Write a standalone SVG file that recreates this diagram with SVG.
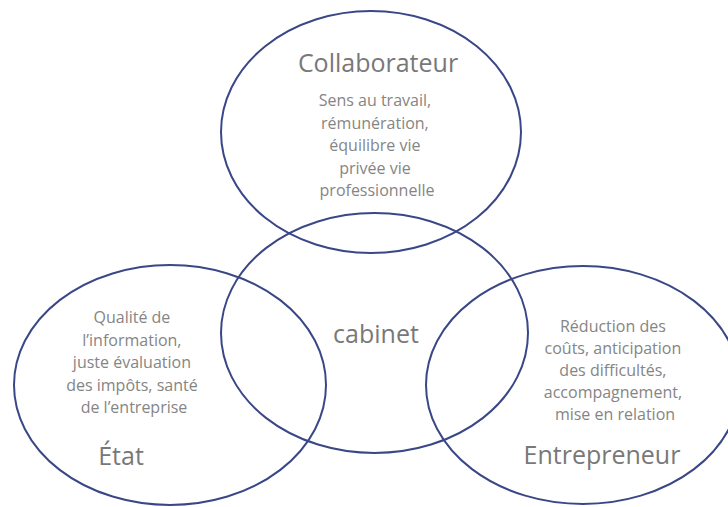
<svg xmlns="http://www.w3.org/2000/svg" width="728" height="507" viewBox="0 0 728 507">
  <style>
    .ring { fill: none; stroke: #3a4787; stroke-width: 2; }
    .title { font-family: "Open Sans", "Liberation Sans", sans-serif; font-size: 25px; fill: #787878; }
    .body { font-family: "Open Sans", "Liberation Sans", sans-serif; font-size: 16px; fill: #858585; text-anchor: middle; }
  </style>
  <rect width="728" height="507" fill="#ffffff"/>

  <g id="collaborateur">
    <ellipse class="ring" cx="371" cy="132" rx="150" ry="121"/>
    <text class="title" x="378" y="72" text-anchor="middle">Collaborateur</text>
    <text class="body">
      <tspan x="377" y="106">Sens au travail,</tspan>
      <tspan x="377" y="128.5">rémunération,</tspan>
      <tspan x="377" y="151">équilibre vie</tspan>
      <tspan x="377" y="173.5">privée vie</tspan>
      <tspan x="377" y="196">professionnelle</tspan>
    </text>
  </g>

  <g id="cabinet">
    <ellipse class="ring" cx="374.5" cy="333" rx="153.5" ry="120"/>
    <text class="title" x="376" y="343" text-anchor="middle">cabinet</text>
  </g>

  <g id="etat">
    <ellipse class="ring" cx="170" cy="385" rx="156" ry="120"/>
    <text class="body">
      <tspan x="134" y="323">Qualité de</tspan>
      <tspan x="134" y="345.5">l’information,</tspan>
      <tspan x="134" y="368">juste évaluation</tspan>
      <tspan x="134" y="390.5">des impôts, santé</tspan>
      <tspan x="134" y="413">de l’entreprise</tspan>
    </text>
    <text class="title" x="121" y="465" text-anchor="middle">État</text>
  </g>

  <g id="entrepreneur">
    <ellipse class="ring" cx="583" cy="385" rx="157" ry="119"/>
    <text class="body">
      <tspan x="615" y="332">Réduction des</tspan>
      <tspan x="615" y="354">coûts, anticipation</tspan>
      <tspan x="615" y="376">des difficultés,</tspan>
      <tspan x="615" y="398">accompagnement,</tspan>
      <tspan x="615" y="420">mise en relation</tspan>
    </text>
    <text class="title" x="602" y="464" text-anchor="middle">Entrepreneur</text>
  </g>

  <g id="connectors"/>
</svg>
